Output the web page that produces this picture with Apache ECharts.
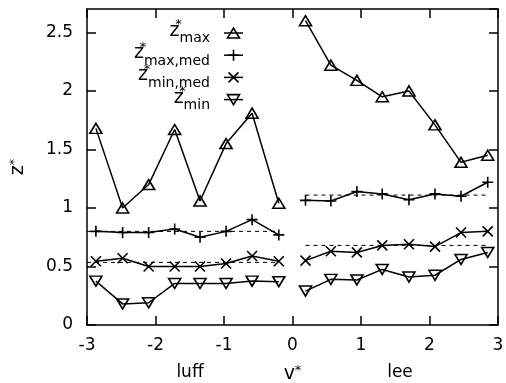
<!DOCTYPE html>
<html>
<head>
<meta charset="utf-8">
<script src="https://cdn.jsdelivr.net/npm/echarts@6/dist/echarts.min.js"></script>
<style>
  html, body { margin: 0; padding: 0; background: #fff; }
  #chart { width: 506px; height: 383px; }
</style>
</head>
<body>
<div id="chart"></div>
<script>
// Positions along the sail (v*), luff side and lee side
const vLuff = [-2.87, -2.48, -2.10, -1.72, -1.35, -0.97, -0.59, -0.20];
const vLee  = [0.19, 0.56, 0.94, 1.31, 1.70, 2.08, 2.46, 2.85];

// z*_max
const zMaxLuff = [1.68, 1.00, 1.20, 1.67, 1.06, 1.55, 1.81, 1.04];
const zMaxLee  = [2.60, 2.22, 2.09, 1.95, 2.00, 1.71, 1.39, 1.45];
// z*_max,med
const zMaxMedLuff = [0.80, 0.79, 0.79, 0.82, 0.75, 0.80, 0.90, 0.77];
const zMaxMedLee  = [1.065, 1.06, 1.14, 1.12, 1.07, 1.12, 1.10, 1.22];
// z*_min,med
const zMinMedLuff = [0.545, 0.57, 0.50, 0.50, 0.50, 0.525, 0.59, 0.545];
const zMinMedLee  = [0.55, 0.63, 0.62, 0.68, 0.69, 0.67, 0.79, 0.80];
// z*_min
const zMinLuff = [0.375, 0.18, 0.19, 0.355, 0.355, 0.355, 0.375, 0.37];
const zMinLee  = [0.29, 0.39, 0.385, 0.475, 0.41, 0.425, 0.56, 0.62];

// Side averages of the median curves (dashed reference lines)
const meanSpanLuff = [-3, -0.20];
const meanSpanLee  = [0.19, 2.85];
const maxMedMean = { luff: 0.80, lee: 1.11 };
const minMedMean = { luff: 0.535, lee: 0.68 };

// Axis ranges / ticks
const xRange = [-3, 3], xStep = 1;
const yRange = [0, 2.7], yStep = 0.5;

const FONT = '"DejaVu Sans", "Liberation Sans", sans-serif';
const BLACK = '#000';
const MARK_FILL = 'rgba(255,255,255,0)';

const markers = {
  max:    { symbol: 'triangle', size: [12, 10], rotate: 0 },
  maxMed: { symbol: 'path://M0,5L10,5M5,0L5,10', size: 11, rotate: 0 },
  minMed: { symbol: 'path://M0,0L10,10M10,0L0,10', size: 10, rotate: 0 },
  min:    { symbol: 'triangle', size: [12, 10], rotate: 180 }
};

function pairs(xs, ys) { return xs.map((x, i) => [x, ys[i]]); }

function curve(key, xs, ys) {
  const m = markers[key];
  return {
    type: 'line', data: pairs(xs, ys), silent: true, z: 3,
    symbol: m.symbol, symbolSize: m.size, symbolRotate: m.rotate,
    lineStyle: { color: BLACK, width: 1.5 },
    itemStyle: { color: MARK_FILL, borderColor: BLACK, borderWidth: 1.6 }
  };
}

function meanLine(span, y) {
  return {
    type: 'line', data: [[span[0], y], [span[1], y]], silent: true, z: 2,
    symbol: 'none',
    lineStyle: { color: BLACK, width: 1, type: [4, 4] }
  };
}

const series = [
  meanLine(meanSpanLuff, maxMedMean.luff), meanLine(meanSpanLee, maxMedMean.lee),
  meanLine(meanSpanLuff, minMedMean.luff), meanLine(meanSpanLee, minMedMean.lee),
  curve('max', vLuff, zMaxLuff), curve('max', vLee, zMaxLee),
  curve('maxMed', vLuff, zMaxMedLuff), curve('maxMed', vLee, zMaxMedLee),
  curve('minMed', vLuff, zMinMedLuff), curve('minMed', vLee, zMinMedLee),
  curve('min', vLuff, zMinLuff), curve('min', vLee, zMinLee)
];

// ---- legend built from graphic elements (stacked super/subscripts) ----
const measureCtx = document.createElement('canvas').getContext('2d');
function textWidth(t, size) {
  measureCtx.font = size + 'px ' + FONT;
  return measureCtx.measureText(t).width;
}

const legendRows = [
  { sub: 'max', key: 'max' },
  { sub: 'max,med', key: 'maxMed' },
  { sub: 'min,med', key: 'minMed' },
  { sub: 'min', key: 'min' }
];
const LEG_RIGHT = 210, LEG_TOP = 33, LEG_STEP = 22.2;
const SAMPLE_X0 = 224, SAMPLE_X1 = 243;
const Z_SIZE = 19, SUB_SIZE = 14, STAR_SIZE = 13;

function markerGraphic(key, cx, cy) {
  const st = { stroke: BLACK, lineWidth: 1.6, fill: MARK_FILL };
  if (key === 'max') {
    return [{ type: 'polygon', shape: { points: [[cx - 6, cy + 5], [cx + 6, cy + 5], [cx, cy - 5]] }, style: st }];
  }
  if (key === 'min') {
    return [{ type: 'polygon', shape: { points: [[cx - 6, cy - 5], [cx + 6, cy - 5], [cx, cy + 5]] }, style: st }];
  }
  if (key === 'maxMed') {
    return [
      { type: 'line', shape: { x1: cx - 5.5, y1: cy, x2: cx + 5.5, y2: cy }, style: st },
      { type: 'line', shape: { x1: cx, y1: cy - 5.5, x2: cx, y2: cy + 5.5 }, style: st }
    ];
  }
  return [
    { type: 'line', shape: { x1: cx - 5, y1: cy - 5, x2: cx + 5, y2: cy + 5 }, style: st },
    { type: 'line', shape: { x1: cx + 5, y1: cy - 5, x2: cx - 5, y2: cy + 5 }, style: st }
  ];
}

const graphics = [];
legendRows.forEach((row, i) => {
  const cy = LEG_TOP + i * LEG_STEP;
  const x0 = LEG_RIGHT - textWidth(row.sub, SUB_SIZE);
  graphics.push(
    { type: 'text', style: { x: x0, y: cy - 2, text: 'z', fontSize: Z_SIZE, fontFamily: FONT, fill: BLACK, align: 'right', verticalAlign: 'middle' } },
    { type: 'text', style: { x: x0 - 1, y: cy - 8, text: '*', fontSize: STAR_SIZE, fontFamily: FONT, fill: BLACK, align: 'center', verticalAlign: 'middle' } },
    { type: 'text', style: { x: x0, y: cy + 5.7, text: row.sub, fontSize: SUB_SIZE, fontFamily: FONT, fill: BLACK, align: 'left', verticalAlign: 'middle' } },
    { type: 'line', shape: { x1: SAMPLE_X0, y1: cy, x2: SAMPLE_X1, y2: cy }, style: { stroke: BLACK, lineWidth: 1.5 } }
  );
  markerGraphic(row.key, (SAMPLE_X0 + SAMPLE_X1) / 2, cy).forEach(g => graphics.push(g));
});

// side captions under the v* axis
graphics.push(
  { type: 'text', style: { x: 190, y: 373, text: 'luff', fontSize: 17, fontFamily: FONT, fill: BLACK, align: 'center', verticalAlign: 'middle' } },
  { type: 'text', style: { x: 400, y: 373, text: 'lee', fontSize: 17, fontFamily: FONT, fill: BLACK, align: 'center', verticalAlign: 'middle' } }
);

const axisLineStyle = { color: BLACK, width: 1.5 };
const tickStyle = { inside: true, length: 9, lineStyle: { color: BLACK, width: 1.5 } };
const labelStyle = { color: BLACK, fontSize: 17, fontFamily: FONT };
const nameRich = {
  a: { fontSize: 19, fontFamily: FONT, color: BLACK },
  s: { fontSize: 13, fontFamily: FONT, color: BLACK, verticalAlign: 'top', padding: [0, 0, 8, 0] }
};

const chart = echarts.init(document.getElementById('chart'), null, { renderer: 'canvas' });
chart.setOption({
  animation: false,
  backgroundColor: '#fff',
  grid: { left: 87, right: 8, top: 9, bottom: 58, containLabel: false, outerBoundsMode: 'none' },
  xAxis: [
    {
      type: 'value', min: xRange[0], max: xRange[1], interval: xStep, position: 'bottom',
      axisLine: { onZero: false, lineStyle: axisLineStyle },
      axisTick: tickStyle,
      axisLabel: Object.assign({ margin: 12 }, labelStyle),
      splitLine: { show: false },
      name: '{a|v}{s|*}', nameLocation: 'middle', nameGap: 39,
      nameTextStyle: { rich: nameRich }
    },
    {
      type: 'value', min: xRange[0], max: xRange[1], interval: xStep, position: 'top',
      axisLine: { onZero: false, lineStyle: axisLineStyle },
      axisTick: tickStyle, axisLabel: { show: false }, splitLine: { show: false }
    }
  ],
  yAxis: [
    {
      type: 'value', min: yRange[0], max: yRange[1], interval: yStep, position: 'left',
      axisLine: { onZero: false, lineStyle: axisLineStyle },
      axisTick: tickStyle,
      axisLabel: Object.assign({ margin: 14, showMaxLabel: false }, labelStyle),
      splitLine: { show: false },
      name: '{a|z}{s|*}', nameLocation: 'middle', nameGap: 58,
      nameTextStyle: { rich: nameRich }
    },
    {
      type: 'value', min: yRange[0], max: yRange[1], interval: yStep, position: 'right',
      axisLine: { onZero: false, lineStyle: axisLineStyle },
      axisTick: tickStyle, axisLabel: { show: false }, splitLine: { show: false }
    }
  ],
  series: series,
  graphic: graphics
});
</script>
</body>
</html>
